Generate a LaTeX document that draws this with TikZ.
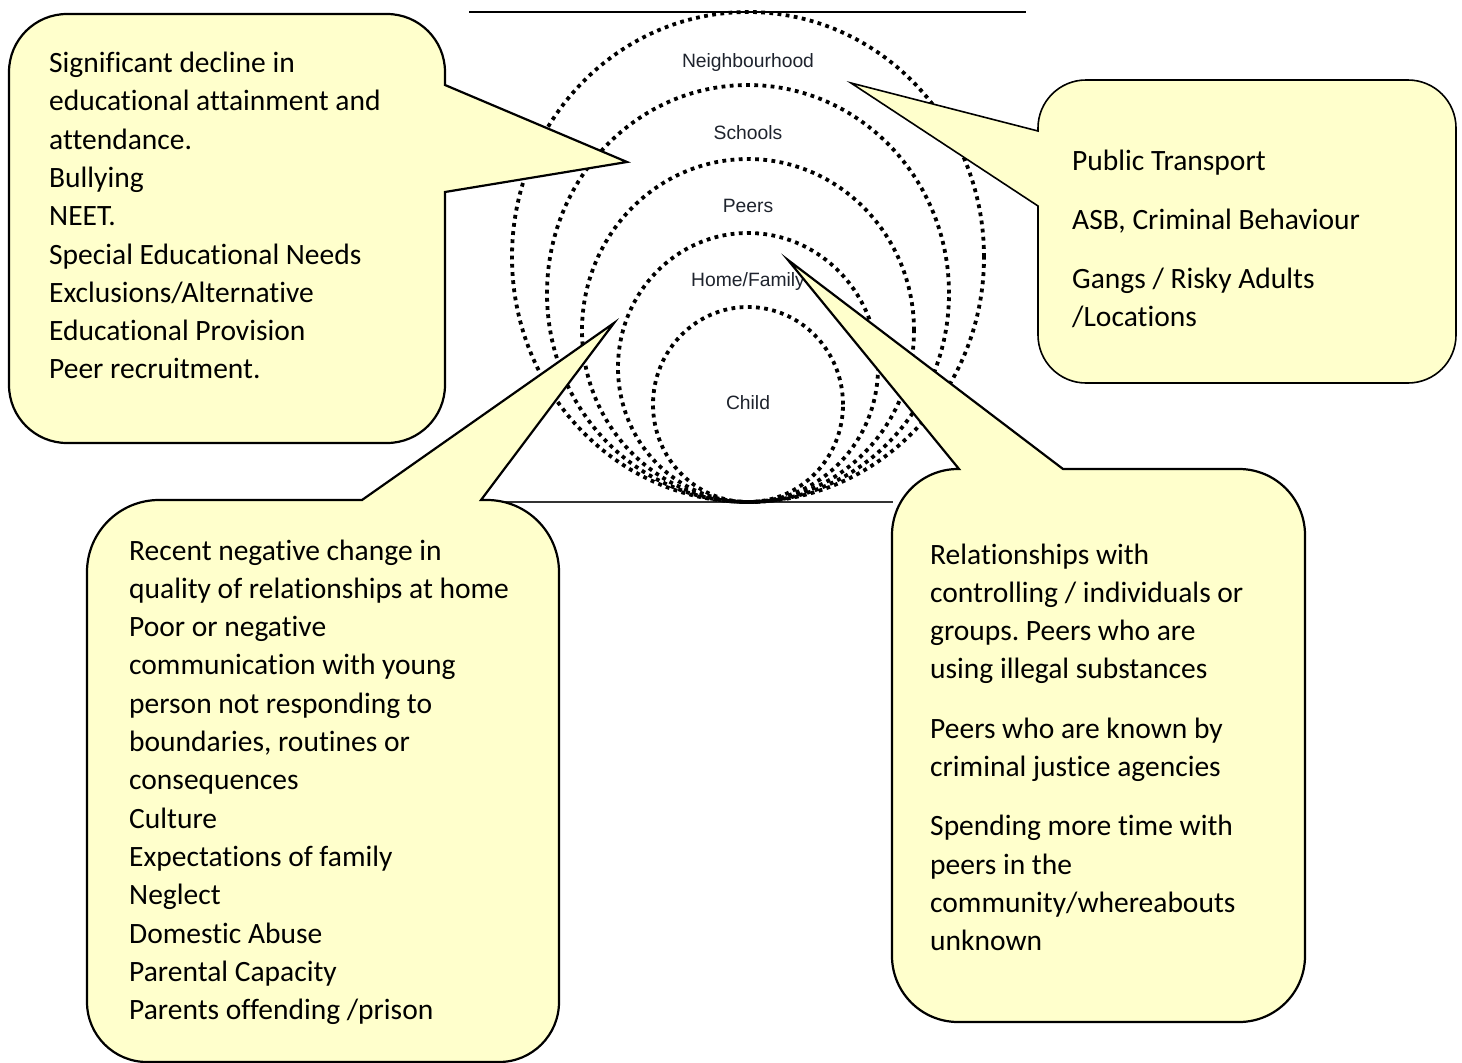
\documentclass[tikz,border=0pt]{standalone}
\usepackage{fontspec}
\setmainfont{Carlito}[Ligatures=NoCommon]
\newfontfamily\labelfont{Liberation Sans}
\definecolor{callfill}{HTML}{FFFFCC}
\definecolor{labelcol}{RGB}{30,35,45}
\definecolor{basecol}{RGB}{50,50,50}
\frenchspacing
\begin{document}
\begin{tikzpicture}[x=1pt,y=1pt,
  ring/.style={line width=3.8pt, dash pattern=on 3.8pt off 4.4pt, black},
  callout/.style={fill=callfill, draw=black, line width=2.2pt, line join=miter},
  ctext/.style={anchor=base west, inner sep=0pt, font=\fontsize{29.5}{38.3}\selectfont},
  ringlabel/.style={anchor=base, inner sep=0pt, text=labelcol, font=\labelfont\fontsize{19.3}{22}\selectfont}]
\useasboundingbox (0,0) rectangle (1462,-1063);
\fill[white] (0,0) rectangle (1462,-1063);

% base line and top line
\coordinate (bl1) at (481,-502);
\coordinate (bl2) at (893,-502);
\draw[basecol, line width=1.8pt] (bl1) -- (bl2);
\coordinate (tl1) at (469,-12);
\coordinate (tl2) at (1026,-12);
\draw[black, line width=2.2pt] (tl1) -- (tl2);

% dotted rings
\draw[ring] (748,-257) ellipse[x radius=236, y radius=245];
\draw[ring] (748,-293.5) ellipse[x radius=201, y radius=208.5];
\draw[ring] (748,-330.5) ellipse[x radius=166, y radius=171.5];
\draw[ring] (748,-367.5) ellipse[x radius=130, y radius=134.5];
\draw[ring] (748,-404.5) ellipse[x radius=95, y radius=97.5];

\node[ringlabel] (nb) at (748,-67) {Neighbourhood};
\node[ringlabel] (sc) at (748,-139.3) {Schools};
\node[ringlabel] (pe) at (748,-212.7) {Peers};
\node[ringlabel] (hf) at (748,-286.7) {Home/Family};
\node[ringlabel] (ch) at (748,-409.3) {Child};

% callouts
\draw[callout] (67,-14) -- (387,-14) arc[start angle=90,end angle=0,radius=58]
  -- (445,-85) -- (627,-162) -- (445,-192) -- (445,-385)
  arc[start angle=0,end angle=-90,radius=58] -- (67,-443)
  arc[start angle=270,end angle=180,radius=58] -- (9,-72)
  arc[start angle=180,end angle=90,radius=58] -- cycle;

\draw[callout, line width=1.6pt] (1086,-80) -- (1408,-80) arc[start angle=90,end angle=0,radius=48]
  -- (1456,-335) arc[start angle=0,end angle=-90,radius=48]
  -- (1086,-383) arc[start angle=270,end angle=180,radius=48]
  -- (1038,-206) -- (851,-83) -- (1038,-131) -- (1038,-128)
  arc[start angle=180,end angle=90,radius=48] -- cycle;

\draw[callout] (159,-500) -- (362,-500) -- (614,-323) -- (481,-500) -- (487,-500)
  arc[start angle=90,end angle=0,radius=72] -- (559,-1002)
  arc[start angle=0,end angle=-90,radius=60] -- (147,-1062)
  arc[start angle=270,end angle=180,radius=60] -- (87,-572)
  arc[start angle=180,end angle=90,radius=72] -- cycle;

\draw[callout] (958,-469) -- (959,-469) -- (788,-260) -- (1063,-469) -- (1239,-469)
  arc[start angle=90,end angle=0,radius=66] -- (1305,-956)
  arc[start angle=0,end angle=-90,radius=66] -- (958,-1022)
  arc[start angle=270,end angle=180,radius=66] -- (892,-535)
  arc[start angle=180,end angle=90,radius=66] -- cycle;

% callout texts
\node[ctext] (tltext) at (49,-72.5) {\vtop{%
  \hbox{Significant decline in}
  \hbox{educational attainment and}
  \hbox{attendance.}
  \hbox{Bullying}
  \hbox{NEET.}
  \hbox{Special Educational Needs}
  \hbox{Exclusions/Alternative}
  \hbox{Educational Provision}
  \hbox{Peer recruitment.}}};

\node[ctext] (trtext) at (1072,-170) {\vtop{%
  \hbox{Public Transport}
  \vskip 21pt
  \hbox{ASB, Criminal Behaviour}
  \vskip 21pt
  \hbox{Gangs / Risky Adults}
  \hbox{/Locations}}};

\node[ctext] (bltext) at (129,-560) {\vtop{%
  \hbox{Recent negative change in}
  \hbox{quality of relationships at home}
  \hbox{Poor or negative}
  \hbox{communication with young}
  \hbox{person not responding to}
  \hbox{boundaries, routines or}
  \hbox{consequences}
  \hbox{Culture}
  \hbox{Expectations of family}
  \hbox{Neglect}
  \hbox{Domestic Abuse}
  \hbox{Parental Capacity}
  \hbox{Parents offending /prison}}};

\node[ctext] (brtext) at (930,-564) {\vtop{%
  \hbox{Relationships with}
  \hbox{controlling / individuals or}
  \hbox{groups. Peers who are}
  \hbox{using illegal substances}
  \vskip 21pt
  \hbox{Peers who are known by}
  \hbox{criminal justice agencies}
  \vskip 21pt
  \hbox{Spending more time with}
  \hbox{peers in the}
  \hbox{community/whereabouts}
  \hbox{unknown}}};
\end{tikzpicture}
\end{document}
